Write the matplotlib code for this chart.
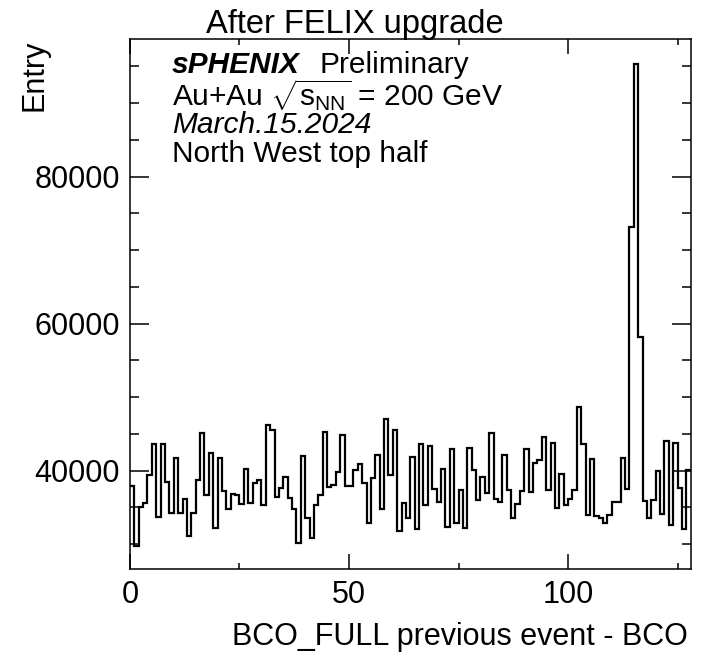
import numpy as np
import matplotlib
matplotlib.use("Agg")
import matplotlib.pyplot as plt
from matplotlib.ticker import MultipleLocator

plt.rcParams['font.family'] = ['Liberation Sans', 'DejaVu Sans']
plt.rcParams['mathtext.fontset'] = 'custom'
plt.rcParams['mathtext.rm'] = 'Liberation Sans'
plt.rcParams['mathtext.it'] = 'Liberation Sans:italic'

# entries per bin, BCO_FULL previous event - BCO (0..128, 128 bins)
counts = [
    37900, 29800, 35000, 35650, 39450, 43700, 33650, 43700, 38450, 34300,
    41770, 34300, 36100, 31100, 34300, 38700, 45170, 36700, 42450, 32250,
    41770, 37280, 34830, 36900, 36700, 35430, 40230, 35650, 38290, 38690,
    35300, 46170, 45530, 36470, 37600, 39100, 36250, 34830, 30130, 42040,
    33570, 30800, 35300, 36700, 45260, 37740, 38010, 39870, 44900, 37900,
    37900, 40100, 40900, 38290, 32930, 39000, 42090, 34830, 47030, 39370,
    45530, 31840, 35570, 33530, 41820, 32110, 43670, 35300, 43360, 37550,
    35700, 40230, 32380, 42990, 32930, 37370, 32240, 43040, 40100, 36020,
    39100, 37010, 45080, 36200, 35740, 42090, 37370, 33570, 35470, 37240,
    42990, 37150, 41090, 41450, 44600, 37370, 43720, 34890, 39510, 35330,
    36100, 37370, 48700, 43580, 33980, 41630, 33880, 33530, 32850, 33980,
    35700, 35700, 41770, 37470, 73180, 95270, 58220, 35880, 33530, 36020,
    40000, 34110, 44080, 32620, 43730, 37600, 32030, 40100,
]
edges = np.arange(0, 129)

fig = plt.figure(figsize=(7.11, 6.62), dpi=100)
ax = fig.add_axes([0.1828, 0.140, 0.7887, 0.8006])

ax.stairs(counts, edges, color='black', linewidth=1.6, baseline=None)

ax.set_xlim(0, 128)
ax.set_ylim(26590, 98670)

ax.xaxis.set_major_locator(MultipleLocator(50))
ax.xaxis.set_minor_locator(MultipleLocator(25))
ax.yaxis.set_major_locator(MultipleLocator(20000))
ax.yaxis.set_minor_locator(MultipleLocator(5000))
ax.set_yticks([40000, 60000, 80000])

ax.tick_params(axis='both', which='both', direction='in', top=True, right=True,
               labelsize=22, width=1.1)
ax.tick_params(axis='x', which='major', length=11, pad=8)
ax.tick_params(axis='x', which='minor', length=4.5)
ax.tick_params(axis='y', which='major', length=14, pad=7)
ax.tick_params(axis='y', which='minor', length=6.5)
for s in ax.spines.values():
    s.set_linewidth(1.1)

fig.text(0.4993, 0.9625, 'After FELIX upgrade', fontsize=23.5,
         ha='center', va='center')
fig.text(0.9677, 0.0378, 'BCO_FULL previous event - BCO', fontsize=22,
         ha='right', va='center')
fig.text(0.049, 0.9396, 'Entry', fontsize=22, rotation=90,
         ha='center', va='top')

x0 = 0.2419
fs = 21.5
fig.text(x0, 0.9020, 'sPHENIX', fontsize=fs, fontweight='bold',
         fontstyle='italic', va='center')
fig.text(0.4487, 0.9020, 'Preliminary', fontsize=fs, va='center')
fig.text(x0, 0.8560, r'Au+Au $\sqrt{\mathrm{s}_{\mathrm{NN}}}$ = 200 GeV',
         fontsize=fs, va='center')
fig.text(x0, 0.8110, 'March.15.2024', fontsize=fs, fontstyle='italic',
         va='center')
fig.text(x0, 0.7680, 'North West top half', fontsize=fs, va='center')

fig.savefig('out.png', dpi=100)
